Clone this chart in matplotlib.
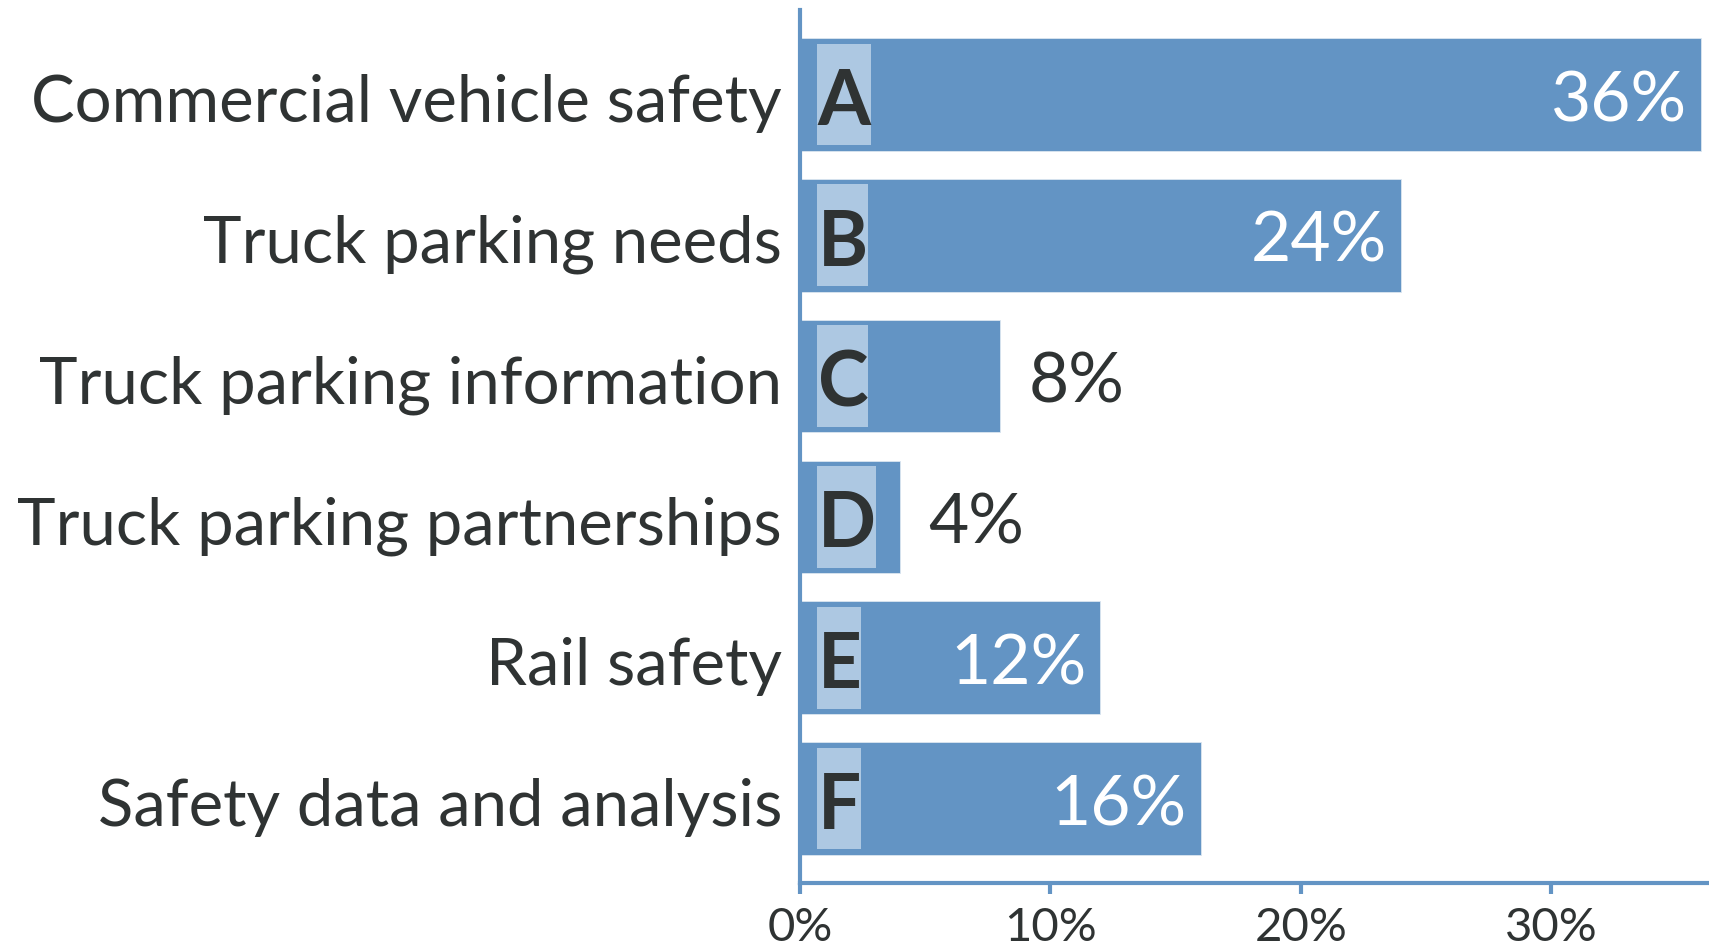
import matplotlib
matplotlib.use("Agg")
import matplotlib.pyplot as plt
import matplotlib.transforms as mtrans
from matplotlib.patches import Rectangle

categories = ["Commercial vehicle safety", "Truck parking needs", "Truck parking information",
              "Truck parking partnerships", "Rail safety", "Safety data and analysis"]
letters = ["A", "B", "C", "D", "E", "F"]
values = [36, 24, 8, 4, 12, 16]
xticks = [0, 10, 20, 30]
xticklabels = ["0%", "10%", "20%", "30%"]

BAR = "#6394C4"
BOX = "#ADC8E2"
DARK = "#2F3333"

plt.rcParams['font.family'] = ['Lato', 'DejaVu Sans']

W, H, DPI = 1709, 942, 100
fig = plt.figure(figsize=(W / DPI, H / DPI), dpi=DPI)
ax = fig.add_axes([800 / W, 1 - 883 / H, 1 - 800 / W, (883 - 10) / H])

y = list(range(len(categories)))
ax.barh(y, values, height=0.8, color=BAR, edgecolor="#DCE6F0", linewidth=0.6, zorder=2)
ax.set_xlim(0, 36.3)
ax.set_ylim(5.6, -0.6)

for s in ["top", "right"]:
    ax.spines[s].set_visible(False)
for s in ["left", "bottom"]:
    ax.spines[s].set_color(BAR)
    ax.spines[s].set_linewidth(3)
    ax.spines[s].set_zorder(3)

ax.set_xticks(xticks)
ax.set_xticklabels(xticklabels, fontsize=34, color=DARK)
ax.tick_params(axis="x", length=8, width=3, color=BAR, pad=9)
ax.set_yticks(y)
ax.set_yticklabels(categories, fontsize=47, color=DARK)
ax.tick_params(axis="y", length=0, pad=13)
shift = mtrans.ScaledTranslation(0, -2.5 / 72, fig.dpi_scale_trans)
for lab in ax.get_yticklabels():
    lab.set_transform(lab.get_transform() + shift)

fig.canvas.draw()
renderer = fig.canvas.get_renderer()
inv = ax.transData.inverted()

for i, (letter, v) in enumerate(zip(letters, values)):
    t = ax.text(0.7, i + 0.06, letter, fontsize=55, fontweight="bold", color=DARK,
                ha="left", va="center", zorder=5)
    bb = t.get_window_extent(renderer)
    x0 = inv.transform((bb.x0 - 1, 0))[0]
    x1 = inv.transform((bb.x1, 0))[0]
    ax.add_patch(Rectangle((x0, i - 0.362), x1 - x0, 0.724, facecolor=BOX,
                           edgecolor="none", zorder=4))
    if v >= 10:
        ax.annotate(f"{v}%", xy=(v, i + 0.05), xytext=(-14, 0), textcoords="offset pixels",
                    ha="right", va="center", fontsize=50, color="white", zorder=5)
    else:
        ax.annotate(f"{v}%", xy=(v, i + 0.05), xytext=(28, 0), textcoords="offset pixels",
                    ha="left", va="center", fontsize=50, color=DARK, zorder=5)

fig.savefig("out.png", dpi=DPI)
